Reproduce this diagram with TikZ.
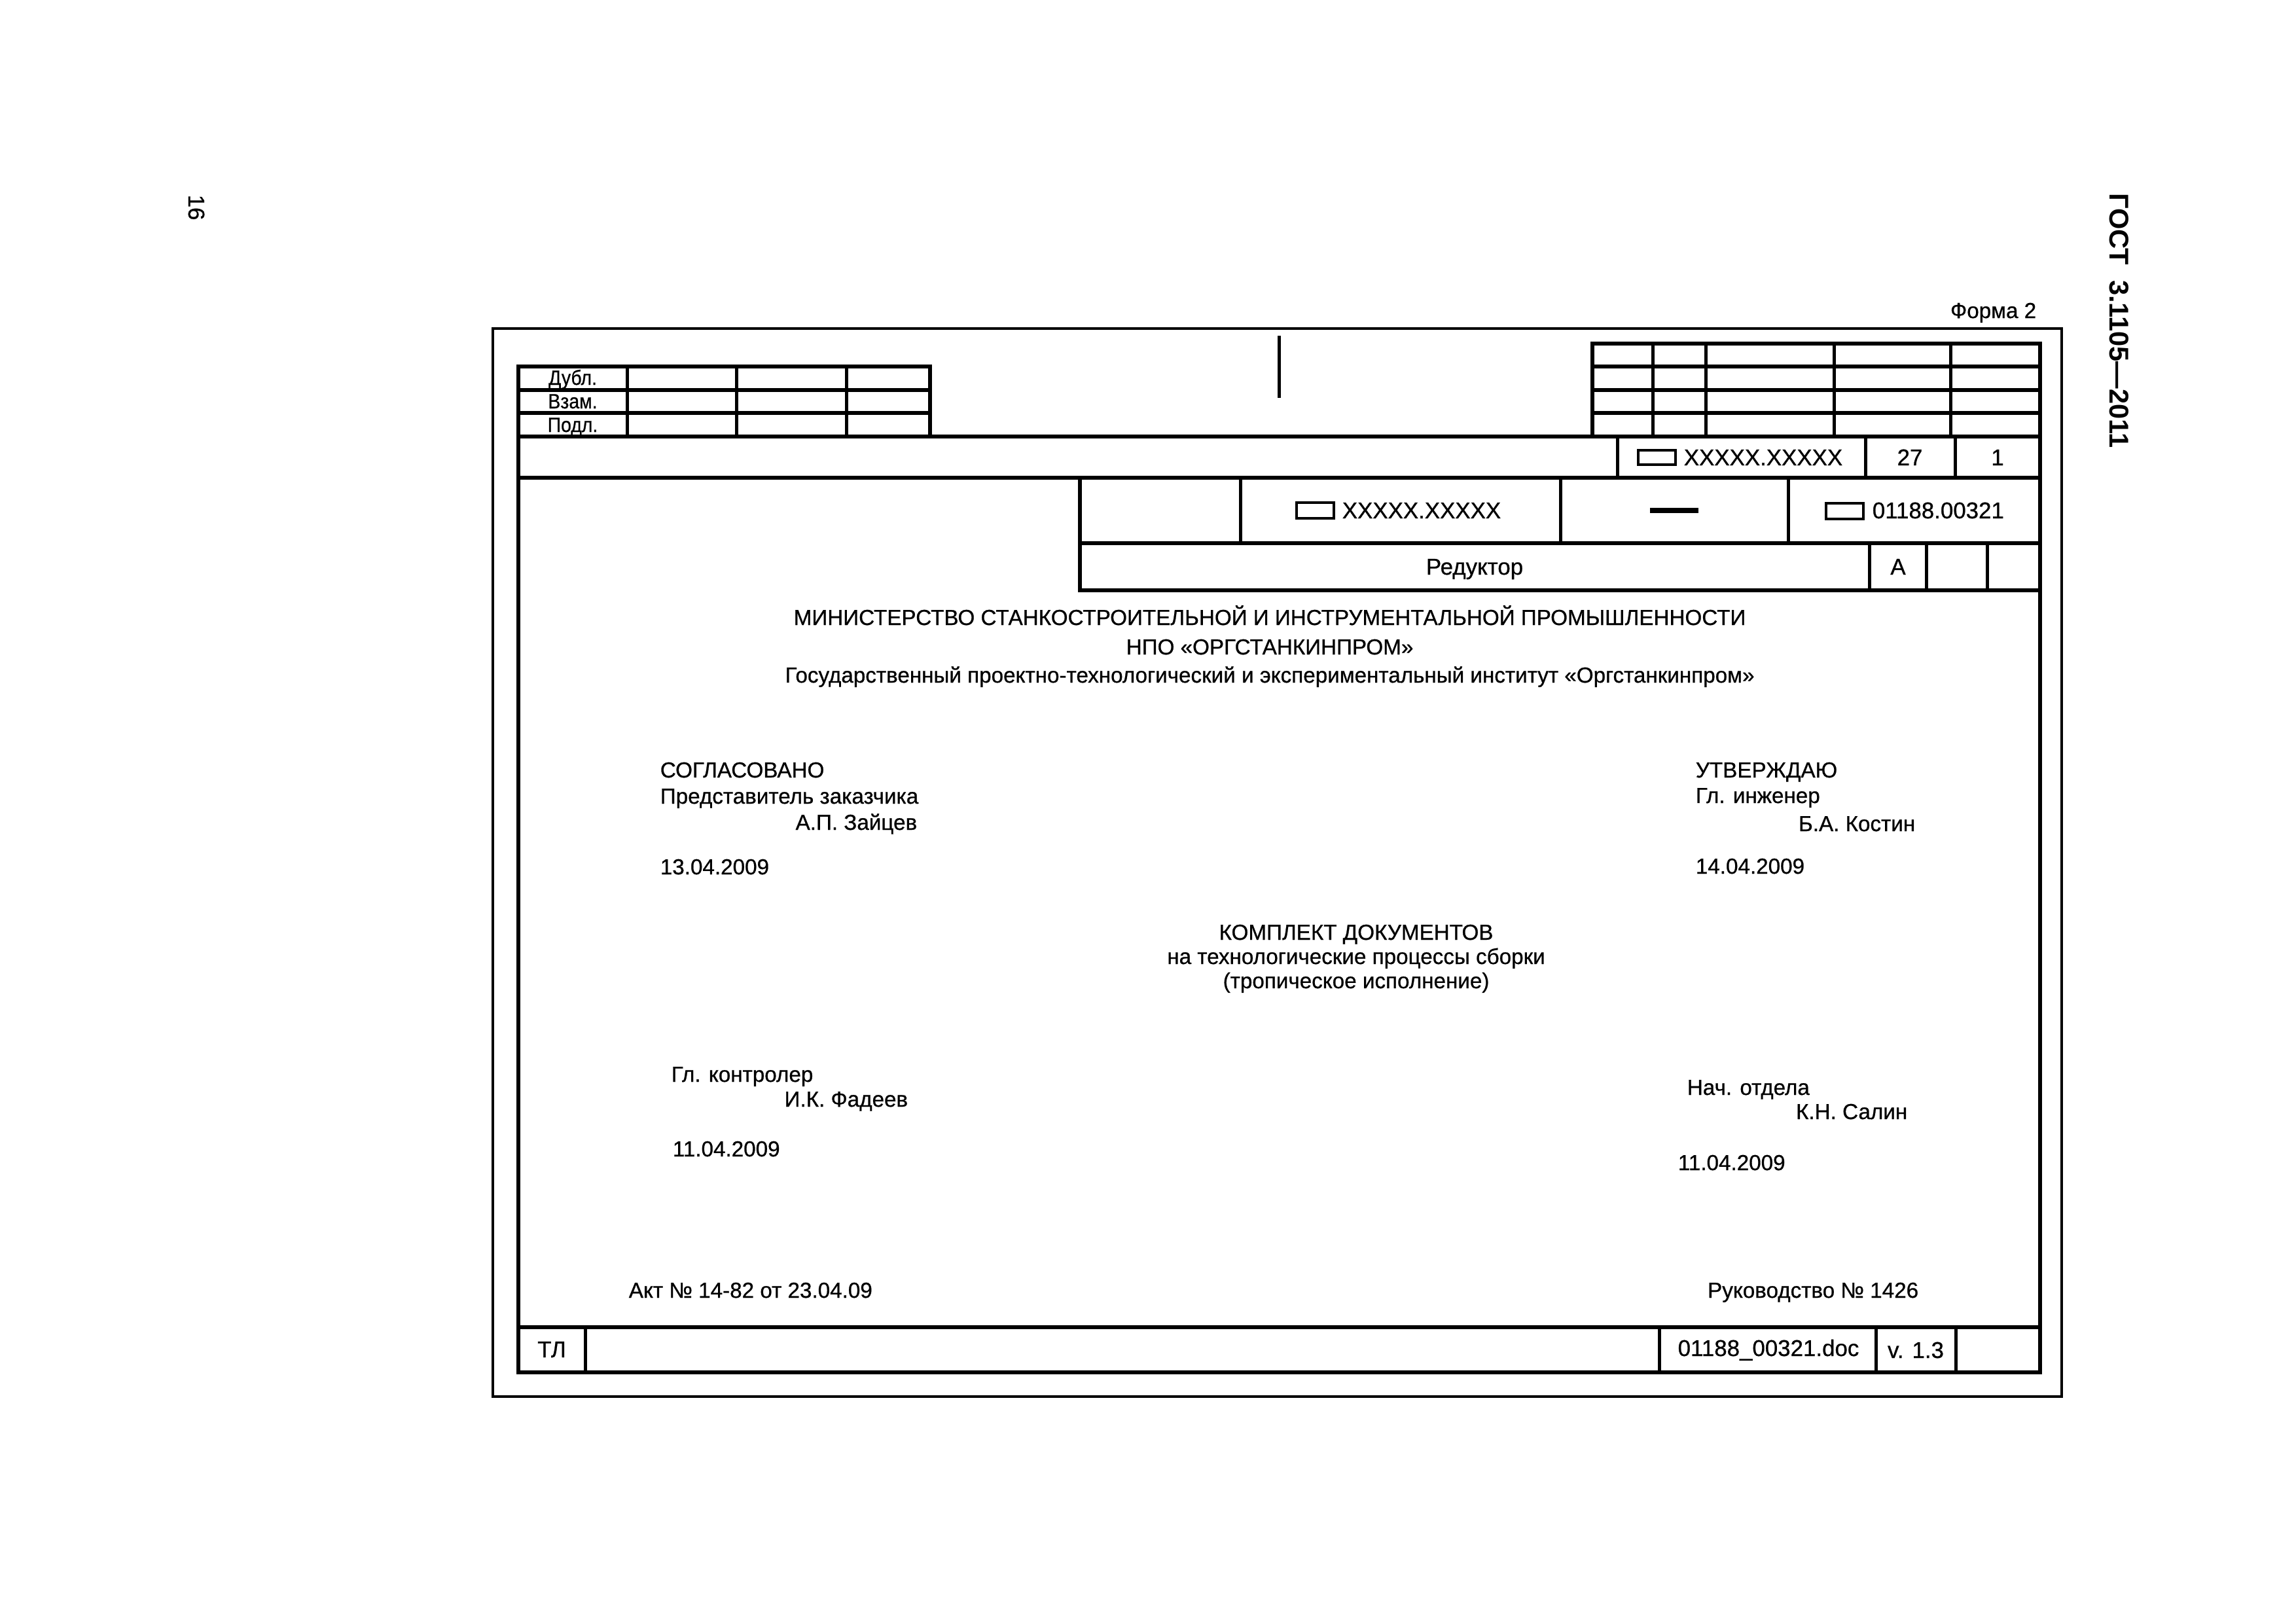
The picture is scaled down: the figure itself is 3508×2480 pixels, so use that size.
\documentclass[tikz,border=0pt]{standalone}
\usepackage{fontspec}
\setmainfont[FakeBold=0.7]{Liberation Sans}
\newfontfamily\narrowfont[FakeStretch=0.9,FakeBold=0.7]{Liberation Sans}
\newfontfamily\boldfont{Liberation Sans Bold}
\usetikzlibrary{calc}
\begin{document}
\begin{tikzpicture}[x=0.08466mm, y=-0.08466mm,
  frameline/.style={line width=1.0pt},
  boldline/.style={line width=1.5pt, line cap=rect},
  divline/.style={line width=1.2pt, line cap=rect},
  boxline/.style={line width=0.85pt},
  dashline/.style={line width=1.7pt},
  txt/.style={inner sep=0pt, font=\fontsize{8pt}{9pt}\selectfont},
  celltxt/.style={inner sep=0pt, font=\fontsize{8.4pt}{9pt}\selectfont},
  smalltxt/.style={inner sep=0pt, font=\narrowfont\fontsize{7.6pt}{8pt}\selectfont}]
\fill[white] (0,0) rectangle (3508,2480);
\useasboundingbox (0,0) rectangle (3508,2480);

% outer frame
\draw[frameline] (753,502) rectangle (3150,2134);
% inner frame
\draw[boldline] (792,560) -- (792,2097) -- (3117,2097) -- (3117,525);
% left table (Дубл./Взам./Подл.)
\draw[boldline] (792,560) -- (1421,560) -- (1421,667);
\draw[boldline] (792,596) -- (1421,596);
\draw[boldline] (792,631) -- (1421,631);
\foreach \xx in {958,1125,1293} \draw[divline] (\xx,560) -- (\xx,667);
% right table
\draw[boldline] (2433,667) -- (2433,525) -- (3117,525);
\foreach \yy in {560,596,631} \draw[boldline] (2433,\yy) -- (3117,\yy);
\foreach \xx in {2525,2606,2802,2980} \draw[divline] (\xx,525) -- (\xx,667);
% top centre mark
\draw[divline, line cap=butt] (1954,513) -- (1954,608);
% row A
\draw[boldline] (792,667) -- (3117,667);
\foreach \xx in {2471,2850,2987} \draw[divline] (\xx,667) -- (\xx,730);
\draw[boldline] (792,730) -- (3117,730);
% row B
\draw[boldline] (1650,730) -- (1650,902);
\foreach \xx in {1895,2384,2732} \draw[divline] (\xx,730) -- (\xx,830);
\draw[boldline] (1650,830) -- (3117,830);
% row C
\foreach \xx in {2856,2943,3036} \draw[divline] (\xx,830) -- (\xx,902);
\draw[boldline] (1650,902) -- (3117,902);
% bottom row
\draw[boldline] (792,2028) -- (3117,2028);
\foreach \xx in {894,2535,2866,2988} \draw[divline] (\xx,2028) -- (\xx,2097);

% table texts
\node[smalltxt, anchor=base] (dubl) at (875,588) {Дубл.};
\node[smalltxt, anchor=base] (vzam) at (875,624) {Взам.};
\node[smalltxt, anchor=base] (podl) at (875,660) {Подл.};

\node[celltxt, anchor=base west] (codeA) at (2572,711) {XXXXX.XXXXX};
\draw[boxline] ($(codeA.base west)+(-69,-23)$) rectangle ($(codeA.base west)+(-12,-1)$);
\node[celltxt, anchor=base] (sheets) at (2918,711) {27};
\node[celltxt, anchor=base] (sheet) at (3052,711) {1};

\node[celltxt, anchor=base west] (codeB) at (2050,792) {XXXXX.XXXXX};
\draw[boxline] ($(codeB.base west)+(-69,-24)$) rectangle ($(codeB.base west)+(-12,0)$);
\coordinate (dashL) at (2521,780);
\coordinate (dashR) at (2595,780);
\draw[dashline] (dashL) -- (dashR);
\node[celltxt, anchor=base west] (codeC) at (2860,792) {01188.00321};
\draw[boxline] ($(codeC.base west)+(-70,-23)$) rectangle ($(codeC.base west)+(-13,1)$);

\node[celltxt, anchor=base] (name) at (2253,878) {Редуктор};
\node[celltxt, anchor=base] (lit) at (2900,878) {А};

\node[celltxt, anchor=base] (tl) at (843,2074) {ТЛ};
\node[celltxt, anchor=base] (file) at (2702,2072) {01188\_00321.doc};
\node[celltxt, anchor=base] (ver) at (2927,2075) {v. 1.3};

% header
\node[txt, anchor=base] (min) at (1940,955) {МИНИСТЕРСТВО СТАНКОСТРОИТЕЛЬНОЙ И ИНСТРУМЕНТАЛЬНОЙ ПРОМЫШЛЕННОСТИ};
\node[txt, anchor=base] (npo) at (1940,1000) {НПО «ОРГСТАНКИНПРОМ»};
\node[txt, anchor=base] (inst) at (1940,1043) {Государственный проектно-технологический и экспериментальный институт «Оргстанкинпром»};

% left signatures
\node[txt, anchor=base west] (sogl) at (1008,1188) {СОГЛАСОВАНО};
\node[txt, anchor=base west] (pred) at (1008,1228) {Представитель заказчика};
\node[txt, anchor=base east] (zai) at (1402,1268) {А.П. Зайцев};
\node[txt, anchor=base west] (d1) at (1008,1336) {13.04.2009};
\node[txt, anchor=base west] (kontr) at (1025,1653) {Гл. контролер};
\node[txt, anchor=base east] (fad) at (1388,1691) {И.К. Фадеев};
\node[txt, anchor=base west] (d3) at (1027,1767) {11.04.2009};

% right signatures
\node[txt, anchor=base west] (utv) at (2590,1188) {УТВЕРЖДАЮ};
\node[txt, anchor=base west] (ing) at (2590,1227) {Гл. инженер};
\node[txt, anchor=base east] (kos) at (2927,1270) {Б.А. Костин};
\node[txt, anchor=base west] (d2) at (2590,1335) {14.04.2009};
\node[txt, anchor=base west] (nach) at (2577,1673) {Нач. отдела};
\node[txt, anchor=base east] (sal) at (2915,1710) {К.Н. Салин};
\node[txt, anchor=base west] (d4) at (2563,1788) {11.04.2009};

% centre title
\node[txt, anchor=base] (kompl) at (2072,1436) {КОМПЛЕКТ ДОКУМЕНТОВ};
\node[txt, anchor=base] (proc) at (2072,1473) {на технологические процессы сборки};
\node[txt, anchor=base] (trop) at (2072,1510) {(тропическое исполнение)};

% bottom notes
\node[txt, anchor=base west] (akt) at (960,1983) {Акт № 14-82 от 23.04.09};
\node[txt, anchor=base east] (ruk) at (2932,1983) {Руководство № 1426};

% page marks
\node[txt, anchor=base east] (forma) at (3112,486) {Форма 2};
\node[rotate=-90, inner sep=0pt, font=\fontsize{8.4pt}{9pt}\selectfont] (page) at (300,317) {16};
\node[rotate=-90, inner sep=0pt, font=\boldfont\fontsize{10pt}{11pt}\selectfont] (gost) at (3238,490) {ГОСТ\hspace{0.55em}3.1105—2011};
\end{tikzpicture}
\end{document}
